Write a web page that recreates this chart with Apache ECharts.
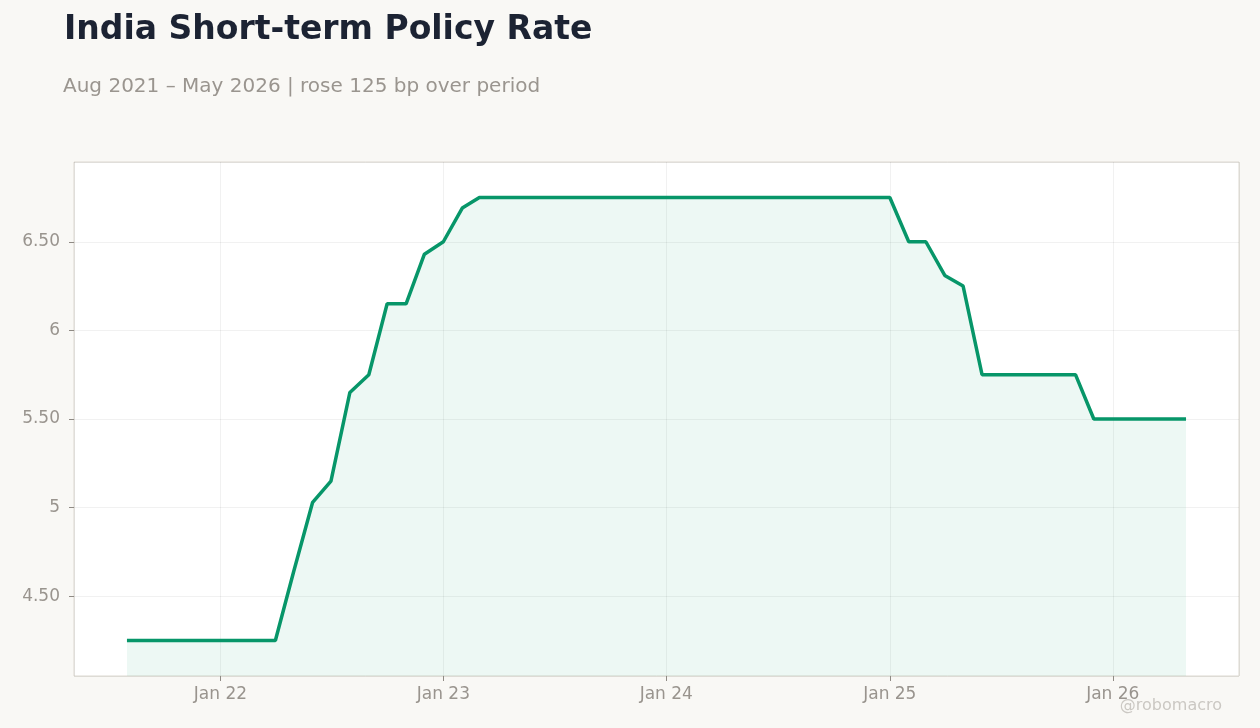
<!DOCTYPE html>
<html>
<head>
<meta charset="utf-8">
<title>India Short-term Policy Rate</title>
<script src="https://cdn.jsdelivr.net/npm/echarts@6/dist/echarts.min.js"></script>
<style>
  html, body { margin: 0; padding: 0; background: #f9f8f5; }
  #chart { width: 1260px; height: 728px; }
</style>
</head>
<body>
<div id="chart"></div>
<script>
// monthly readings, first of month
var dates = [
  '2021-08-01', '2021-09-01', '2021-10-01', '2021-11-01', '2021-12-01',
  '2022-01-01', '2022-02-01', '2022-03-01', '2022-04-01', '2022-05-01', '2022-06-01',
  '2022-07-01', '2022-08-01', '2022-09-01', '2022-10-01', '2022-11-01', '2022-12-01',
  '2023-01-01', '2023-02-01', '2023-03-01', '2023-04-01', '2023-05-01', '2023-06-01',
  '2023-07-01', '2023-08-01', '2023-09-01', '2023-10-01', '2023-11-01', '2023-12-01',
  '2024-01-01', '2024-02-01', '2024-03-01', '2024-04-01', '2024-05-01', '2024-06-01',
  '2024-07-01', '2024-08-01', '2024-09-01', '2024-10-01', '2024-11-01', '2024-12-01',
  '2025-01-01', '2025-02-01', '2025-03-01', '2025-04-01', '2025-05-01', '2025-06-01',
  '2025-07-01', '2025-08-01', '2025-09-01', '2025-10-01', '2025-11-01', '2025-12-01',
  '2026-01-01', '2026-02-01', '2026-03-01', '2026-04-01', '2026-05-01'
];
var rates = [
  4.25, 4.25, 4.25, 4.25, 4.25,
  4.25, 4.25, 4.25, 4.25, 4.64, 5.03,
  5.15, 5.65, 5.75, 6.15, 6.15, 6.43,
  6.50, 6.69, 6.75, 6.75, 6.75, 6.75,
  6.75, 6.75, 6.75, 6.75, 6.75, 6.75,
  6.75, 6.75, 6.75, 6.75, 6.75, 6.75,
  6.75, 6.75, 6.75, 6.75, 6.75, 6.75,
  6.75, 6.50, 6.50, 6.31, 6.25, 5.75,
  5.75, 5.75, 5.75, 5.75, 5.75, 5.50,
  5.50, 5.50, 5.50, 5.50, 5.50
];
var monthNames = ['Jan', 'Feb', 'Mar', 'Apr', 'May', 'Jun', 'Jul', 'Aug', 'Sep', 'Oct', 'Nov', 'Dec'];

var seriesData = dates.map(function (d, i) { return [d, rates[i]]; });

// pad the x range 5% each side, y range 0.2 each side
var t0 = +echarts.time.parse(dates[0]);
var t1 = +echarts.time.parse(dates[dates.length - 1]);
var pad = (t1 - t0) * 0.05;
var yMin = Math.min.apply(null, rates) - 0.2;
var yMax = Math.max.apply(null, rates) + 0.2;

var labelColor = '#99948e';
var fontFam = 'DejaVu Sans';

var myChart = echarts.init(document.getElementById('chart'));
var option = {
    backgroundColor: '#f9f8f5',
    animation: false,
    title: [{
        text: 'India Short-term Policy Rate',
        left: 59,
        top: 9,
        textStyle: { fontFamily: fontFam, fontSize: 33, fontWeight: 'bold', color: '#1c2333' }
    }, {
        text: 'Aug 2021 – May 2026 | rose 125 bp over period',
        left: 58,
        top: 72,
        textStyle: { fontFamily: fontFam, fontSize: 20, fontWeight: 'normal', color: '#9a958f' }
    }],
    graphic: [{
        type: 'text',
        right: 38,
        bottom: 14,
        style: { text: '@robomacro', font: '16px "DejaVu Sans", sans-serif', fill: '#cbc8c3' }
    }],
    grid: {
        left: 74,
        right: 21,
        top: 162,
        bottom: 52,
        show: true,
        backgroundColor: '#ffffff',
        borderColor: '#dcd8d0',
        borderWidth: 1
    },
    xAxis: {
        type: 'time',
        min: t0 - pad,
        max: t1 + pad,
        splitNumber: 5,
        axisLine: { show: false },
        axisTick: { show: true, length: 5, lineStyle: { color: '#8f8a84' } },
        splitLine: { show: true, lineStyle: { color: 'rgba(0,0,0,0.055)' } },
        axisLabel: {
            color: labelColor,
            fontFamily: fontFam,
            fontSize: 17,
            margin: 10,
            formatter: function (val) {
                var d = new Date(val);
                return monthNames[d.getMonth()] + ' ' + String(d.getFullYear()).slice(2);
            }
        }
    },
    yAxis: {
        type: 'value',
        min: yMin,
        max: yMax,
        splitNumber: 5,
        axisLine: { show: false },
        axisTick: { show: true, length: 5, lineStyle: { color: '#8f8a84' } },
        splitLine: { show: true, lineStyle: { color: 'rgba(0,0,0,0.055)' } },
        axisLabel: {
            color: labelColor,
            fontFamily: fontFam,
            fontSize: 17,
            margin: 14,
            padding: [4, 0, 0, 0],
            showMinLabel: false,
            showMaxLabel: false,
            formatter: function (v) {
                if (Math.abs(v * 2 - Math.round(v * 2)) > 1e-6) return '';
                return Number.isInteger(Math.round(v * 100) / 100) ? String(Math.round(v)) : v.toFixed(2);
            }
        }
    },
    series: [{
        name: 'Policy rate',
        type: 'line',
        data: seriesData,
        showSymbol: false,
        lineStyle: { width: 3.5, color: '#079669' },
        itemStyle: { color: '#079669' },
        areaStyle: { color: 'rgba(7,150,105,0.1)' }
    }]
};
myChart.setOption(option);
window.onresize = myChart.resize;
</script>
</body>
</html>
